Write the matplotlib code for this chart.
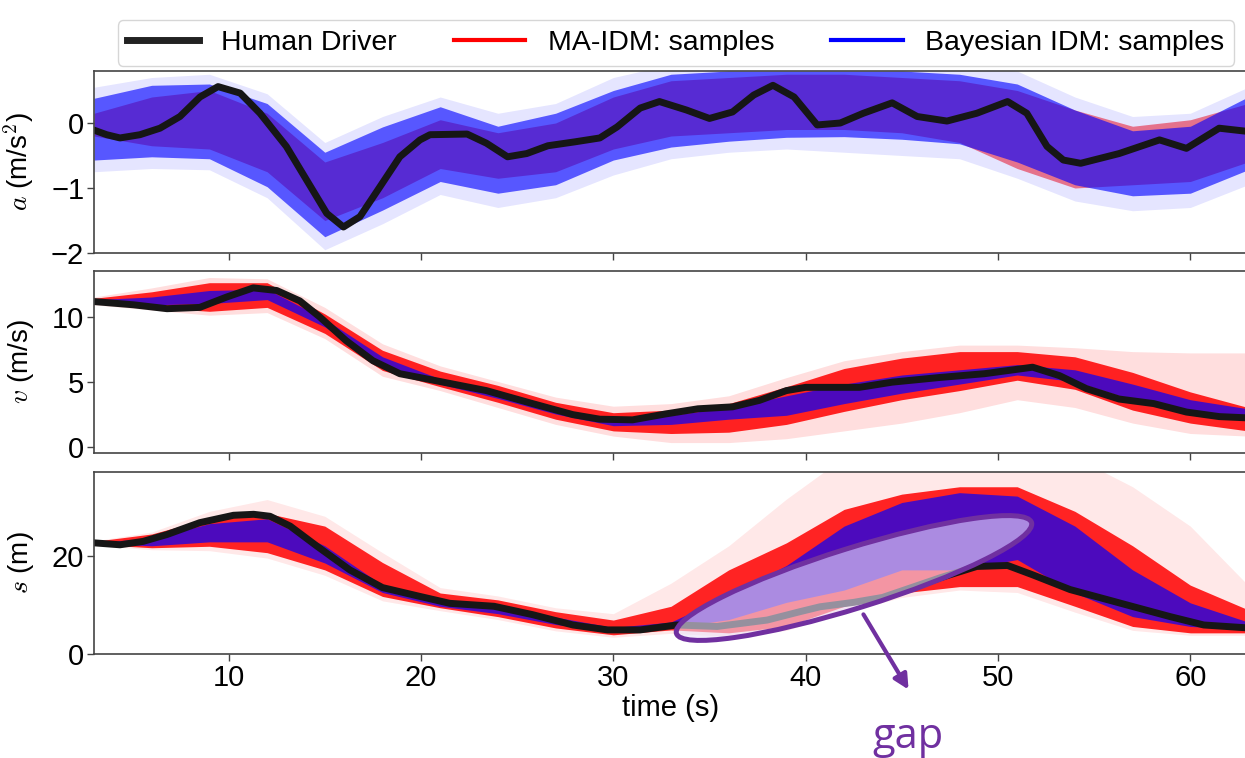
import matplotlib.pyplot as plt
from matplotlib.lines import Line2D
from matplotlib.patches import Ellipse, FancyArrowPatch
from matplotlib.transforms import IdentityTransform

plt.rcParams['font.family'] = ['Liberation Sans', 'DejaVu Sans']
plt.rcParams['mathtext.fontset'] = 'cm'

# --- human driver trajectories ---
a_t = [3, 3.66, 4.35, 5.39, 6.43, 7.47, 8.51, 9.45, 10.6, 11.63, 13.0, 14.06, 15.1, 15.97, 16.83,
       17.87, 18.9, 19.95, 20.47, 22.4, 23.4, 24.5, 25.5, 26.6, 28.0, 29.3, 30.2, 31.4, 32.4, 33.8,
       35.0, 36.2, 37.3, 38.3, 39.4, 40.6, 41.8, 43.0, 44.5, 45.8, 47.35, 48.9, 50.5, 51.5, 52.55,
       53.4, 54.3, 56.3, 58.4, 59.8, 61.5, 63]
a_human = [-0.11, -0.18, -0.23, -0.18, -0.08, 0.1, 0.4, 0.56, 0.46, 0.15, -0.36, -0.88, -1.39, -1.6,
           -1.44, -0.98, -0.52, -0.26, -0.18, -0.17, -0.31, -0.52, -0.47, -0.35, -0.29, -0.23, -0.06,
           0.23, 0.33, 0.2, 0.07, 0.17, 0.43, 0.58, 0.4, -0.03, 0.0, 0.15, 0.31, 0.1, 0.03, 0.15,
           0.33, 0.15, -0.36, -0.57, -0.62, -0.47, -0.26, -0.39, -0.08, -0.13]

v_t = [3, 5.05, 6.8, 8.5, 9.9, 11.28, 12.5, 13.7, 14.75, 16.1, 17.5, 18.9, 19.95, 20.3, 21.5, 23.4,
       24.6, 25.8, 27.9, 29.3, 31.0, 32.7, 34.4, 36.2, 37.6, 39.0, 40.0, 42.8, 44.5, 46.9, 49.3,
       51.8, 53.2, 54.6, 56.3, 58.1, 59.8, 61.5, 63]
v_human = [11.15, 10.9, 10.6, 10.7, 11.5, 12.2, 12.0, 11.2, 9.95, 8.15, 6.6, 5.6, 5.3, 5.2, 4.85,
           4.3, 3.8, 3.3, 2.45, 2.1, 2.05, 2.5, 2.9, 3.05, 3.55, 4.3, 4.55, 4.55, 4.95, 5.3, 5.6,
           6.1, 5.45, 4.45, 3.65, 3.3, 2.65, 2.3, 2.2]

s_t = [3, 4.35, 5.56, 6.8, 8.5, 10.25, 11.3, 12.15, 13.2, 14.6, 16.3, 18.0, 19.95, 21.5, 23.8,
       25.8, 27.9, 29.7, 31.4, 33.3, 35.4, 38.0, 39.7, 40.75, 42.5, 44.0, 47.0, 48.9, 50.5, 51.8,
       53.75, 56.3, 58.95, 60.7, 63]
s_human = [22.6, 22.2, 22.9, 24.3, 26.7, 28.2, 28.4, 28.0, 26.0, 21.9, 17.1, 13.5, 11.7, 10.3, 9.7,
           8.0, 5.9, 4.9, 4.9, 5.9, 5.6, 6.9, 8.6, 9.6, 10.5, 11.5, 15.5, 17.8, 18.0, 16.1, 13.1,
           10.4, 7.6, 5.9, 5.3]

# --- sample envelopes, every 3 s ---
t_band = [3, 6, 9, 12, 15, 18, 21, 24, 27, 30, 33, 36, 39, 42, 45, 48, 51, 54, 57, 60, 63]

a_blue_faint_hi = [0.55, 0.7, 0.75, 0.45, -0.3, 0.1, 0.4, 0.15, 0.3, 0.7, 0.9, 0.9, 0.9, 0.9, 0.9, 0.9, 0.8, 0.4, 0.1, 0.15, 0.55]
a_blue_hi = [0.38, 0.58, 0.6, 0.3, -0.45, -0.06, 0.25, -0.05, 0.15, 0.5, 0.75, 0.8, 0.8, 0.8, 0.8, 0.75, 0.6, 0.2, -0.12, -0.05, 0.4]
a_blue_lo = [-0.57, -0.52, -0.55, -0.98, -1.75, -1.34, -0.9, -1.08, -0.95, -0.57, -0.37, -0.28, -0.22, -0.21, -0.25, -0.32, -0.6, -0.95, -1.12, -1.08, -0.72]
a_blue_faint_lo = [-0.75, -0.7, -0.72, -1.15, -1.95, -1.55, -1.1, -1.3, -1.15, -0.8, -0.55, -0.45, -0.4, -0.45, -0.5, -0.55, -0.85, -1.2, -1.35, -1.3, -0.95]
a_red_hi = [0.15, 0.4, 0.5, 0.15, -0.6, -0.3, 0.05, -0.15, 0.0, 0.4, 0.65, 0.7, 0.75, 0.75, 0.7, 0.65, 0.5, 0.2, -0.05, 0.05, 0.3]
a_red_lo = [-0.2, -0.35, -0.4, -0.75, -1.5, -1.15, -0.7, -0.85, -0.75, -0.4, -0.2, -0.15, -0.1, -0.1, -0.15, -0.3, -0.7, -1.0, -0.95, -0.9, -0.6]

v_red_faint_hi = [11.5, 12.2, 13.0, 12.9, 10.7, 7.9, 6.2, 5.0, 3.8, 3.1, 3.3, 3.9, 5.3, 6.6, 7.3, 7.8, 7.8, 7.6, 7.3, 7.2, 7.2]
v_red_hi = [11.4, 11.9, 12.6, 12.6, 10.2, 7.4, 5.8, 4.7, 3.4, 2.6, 2.8, 3.3, 4.6, 6.0, 6.8, 7.3, 7.3, 6.9, 5.7, 4.2, 3.0]
v_red_lo = [11.0, 10.7, 10.4, 10.7, 8.7, 5.85, 4.6, 3.4, 2.1, 1.2, 1.0, 1.1, 1.7, 2.7, 3.6, 4.3, 5.1, 4.4, 2.8, 1.8, 1.2]
v_red_faint_lo = [10.9, 10.5, 10.1, 10.3, 8.3, 5.4, 4.3, 3.0, 1.7, 0.8, 0.3, 0.3, 0.6, 1.2, 1.8, 2.6, 3.6, 3.0, 1.8, 1.0, 0.8]
v_blue_hi = [11.3, 11.5, 12.0, 12.1, 9.8, 6.9, 5.2, 4.1, 2.9, 2.1, 2.4, 3.0, 3.9, 4.8, 5.5, 5.9, 6.3, 5.9, 4.8, 3.6, 2.9]
v_blue_lo = [11.1, 10.9, 11.0, 11.3, 9.2, 6.2, 4.8, 3.7, 2.5, 1.6, 1.7, 2.1, 2.4, 3.3, 4.1, 4.8, 5.5, 5.0, 3.6, 2.5, 2.0]

s_red_faint_hi = [23.0, 24.8, 29.0, 31.4, 28.0, 20.6, 13.5, 11.8, 9.4, 8.2, 14.4, 22.0, 31.5, 40, 40, 40, 40, 40, 34, 26, 14]
s_red_hi = [22.9, 24.4, 27.6, 28.6, 26.0, 18.6, 12.4, 11.0, 8.6, 6.9, 9.7, 17.1, 22.6, 29.4, 32.5, 34.0, 34.0, 29.0, 22.0, 14.0, 9.0]
s_red_lo = [22.3, 21.6, 21.9, 20.6, 17.1, 11.7, 9.4, 7.6, 5.3, 3.9, 4.9, 4.3, 5.6, 9.7, 12.4, 13.7, 13.7, 9.7, 5.6, 4.3, 4.3]
s_red_faint_lo = [22.1, 21.2, 21.0, 19.5, 16.0, 10.8, 8.8, 7.0, 4.7, 3.4, 4.2, 3.6, 4.8, 8.5, 11.5, 13.0, 12.5, 8.5, 4.8, 3.8, 3.8]
s_blue_hi = [22.7, 23.5, 26.5, 27.5, 22.0, 14.0, 10.5, 9.5, 7.5, 5.4, 6.5, 12.0, 18.0, 26.0, 30.8, 32.8, 32.1, 26.0, 17.1, 10.4, 6.5]
s_blue_lo = [22.5, 22.0, 22.8, 22.8, 18.5, 12.5, 9.7, 8.2, 6.0, 4.6, 5.3, 7.0, 10.5, 13.0, 17.1, 17.1, 19.2, 12.4, 7.6, 5.6, 5.0]

x_ticks = [10, 20, 30, 40, 50, 60]

W, H = 1245, 758
fig = plt.figure(figsize=(W / 100, H / 100), dpi=100)


def box(top, bottom):
    return [94 / W, 1 - bottom / H, (1248 - 94) / W, (bottom - top) / H]


ax_a = fig.add_axes(box(71, 253))
ax_v = fig.add_axes(box(271, 453), sharex=ax_a)
ax_s = fig.add_axes(box(472, 654), sharex=ax_a)

RED, BLUE, BLACK = '#ff0000', '#0000ff', '#161616'

# acceleration panel
ax_a.fill_between(t_band, a_red_lo, a_red_hi, color=RED, alpha=0.5, lw=0)
ax_a.fill_between(t_band, a_blue_faint_lo, a_blue_faint_hi, color=BLUE, alpha=0.1, lw=0)
ax_a.fill_between(t_band, a_blue_lo, a_blue_hi, color=BLUE, alpha=0.62, lw=0)
ax_a.plot(a_t, a_human, color=BLACK, lw=5, solid_capstyle='round', solid_joinstyle='round')

# speed / gap panels
for ax, rfh, rh, rl, rfl, bh, bl, tt, hh, fa in [
        (ax_v, v_red_faint_hi, v_red_hi, v_red_lo, v_red_faint_lo, v_blue_hi, v_blue_lo, v_t, v_human, 0.13),
        (ax_s, s_red_faint_hi, s_red_hi, s_red_lo, s_red_faint_lo, s_blue_hi, s_blue_lo, s_t, s_human, 0.09)]:
    ax.fill_between(t_band, rfl, rfh, color=RED, alpha=fa, lw=0)
    ax.fill_between(t_band, rl, rh, color=RED, alpha=0.85, lw=0)
    ax.fill_between(t_band, bl, bh, color=BLUE, alpha=0.7, lw=0)
    ax.plot(tt, hh, color=BLACK, lw=5, solid_capstyle='round', solid_joinstyle='round')

ax_a.set_ylim(-2, 0.8)
ax_a.set_yticks([-2, -1, 0])
ax_v.set_ylim(-0.5, 13.5)
ax_v.set_yticks([0, 5, 10])
ax_s.set_ylim(0, 37)
ax_s.set_yticks([0, 20])
ax_a.set_xlim(3, 63)
ax_a.set_xticks(x_ticks)

ax_a.set_ylabel('$a$ (m/s$^2$)', fontsize=20)
ax_v.set_ylabel('$v$ (m/s)', fontsize=20)
ax_s.set_ylabel('$s$ (m)', fontsize=20)
ax_s.set_xlabel('time (s)', fontsize=21, labelpad=2)

for ax in (ax_a, ax_v, ax_s):
    ax.yaxis.set_label_coords(-0.05, 0.5)
    ax.tick_params(labelsize=21, length=5, width=1, color='#444444', pad=2)
    for sp in ax.spines.values():
        sp.set_color('#444444')
        sp.set_linewidth(1.2)
for ax in (ax_a, ax_v):
    ax.tick_params(labelbottom=False)

handles = [Line2D([], [], color='#222222', lw=5),
           Line2D([], [], color=RED, lw=3),
           Line2D([], [], color=BLUE, lw=3)]
labels = ['Human Driver', 'MA-IDM: samples', 'Bayesian IDM: samples']
leg = fig.legend(handles, labels, loc='upper center', bbox_to_anchor=(676 / W, 1 - 6 / H),
                 ncol=3, fontsize=20.5, frameon=True, fancybox=True, handlelength=2.5,
                 columnspacing=2.0, borderpad=0.35, handletextpad=0.8)
leg.get_frame().set_edgecolor('#cccccc')

# "gap" annotation drawn in figure pixels
PURPLE = '#7030a0'
ell = Ellipse((854, H - 578), width=372, height=60, angle=17.35,
              facecolor=(0.92, 0.89, 0.98, 0.6), edgecolor=PURPLE, lw=3.6,
              transform=IdentityTransform())
fig.add_artist(ell)
arr = FancyArrowPatch((862, H - 612), (910, H - 692), arrowstyle='-|>', mutation_scale=22,
                      lw=3, color=PURPLE, transform=IdentityTransform())
fig.add_artist(arr)
fig.text(908 / W, 1 - 737 / H, 'gap', fontsize=30, color=PURPLE, ha='center', va='center',
         family='Open Sans')

fig.savefig('out.png', dpi=100)
